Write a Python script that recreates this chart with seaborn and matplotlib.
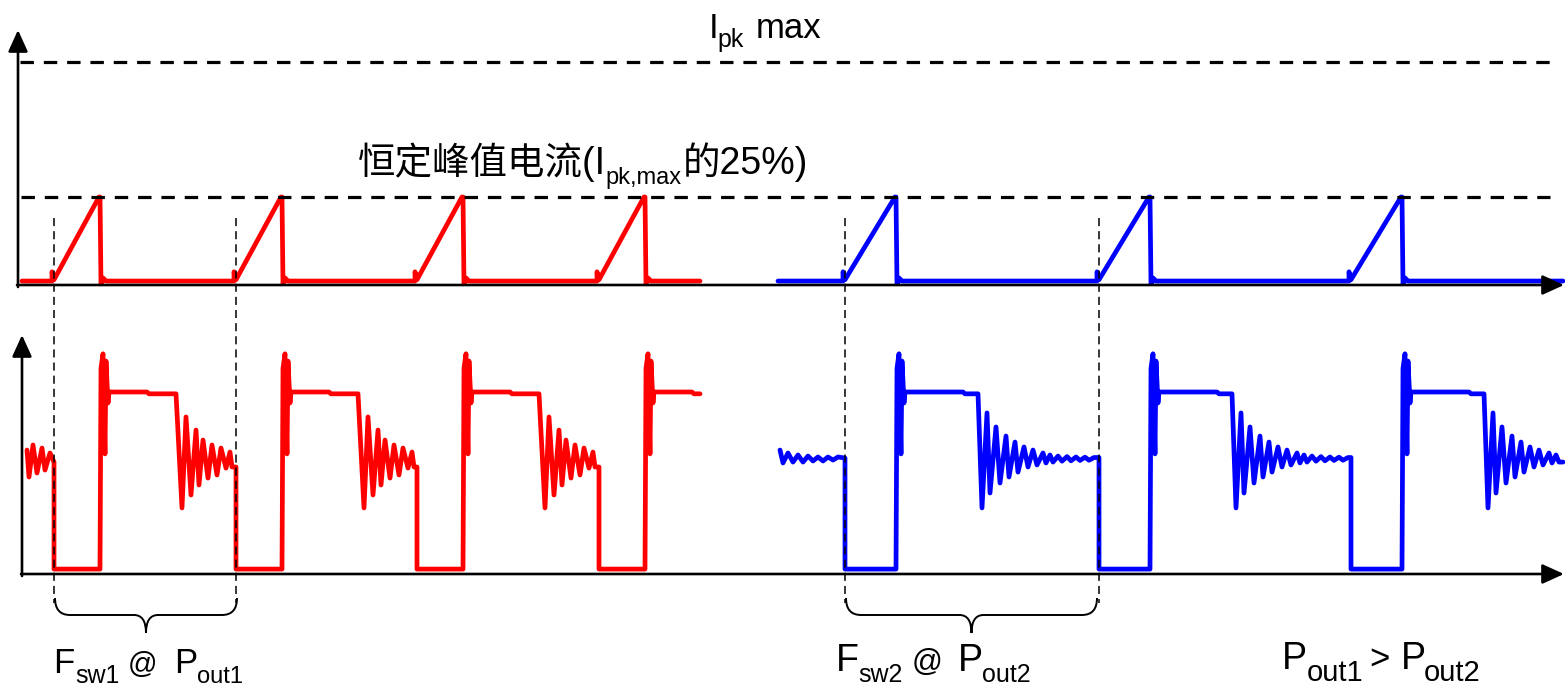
import matplotlib
matplotlib.use("Agg")
import matplotlib.pyplot as plt
import matplotlib.transforms as mtrans
from matplotlib.path import Path
from matplotlib.patches import PathPatch
import seaborn as sns
import pandas as pd

# ---------------- data (schematic) ----------------
# time in arbitrary units, common to both panels
red_starts = [54, 236, 417, 599]        # switching instants at Fsw1 (current ramp start / drain drop)
red_on_time = 46                        # primary conduction time
red_step_time = 47                      # plateau small step, after turn-off
red_ring_start = 76                     # plateau length after turn-off
red_t_begin, red_t_end = 22, 700

blue_starts = [845, 1099, 1351]         # switching instants at Fsw2
blue_on_time = 51
blue_step_time = 67
blue_ring_start = 82
blue_t_begin, blue_t_end = 778, 1563

# primary current levels (normalised: constant peak = 1)
i_base = 0.045
i_blip = 0.15
i_peak = 1.0
ipk_max = 2.53

# drain voltage levels (normalised: reflected plateau = 1)
v_low = 0.027
v_plateau = 1.0
v_step = 0.99

spike_dt = [1, 3, 5, 6, 8, 9]
spike_v = [1.13, 1.21, 0.66, 1.17, 0.94, 1.0]

red_ring_dt = [6, 10, 15, 20, 23, 27, 32, 36, 41, 45, 50, 54, 56, 60]
red_ring_v = [0.363, 0.863, 0.434, 0.791, 0.489, 0.736, 0.527, 0.709,
              0.544, 0.692, 0.582, 0.670, 0.588, 0.643]

blue_ring_dt = [4, 9, 12, 18, 22, 28, 31, 37, 40, 46, 50, 55, 59, 65, 68,
                72, 75, 80, 84, 89, 93, 98, 102, 107, 111, 116, 121]
blue_ring_v = [0.363, 0.885, 0.445, 0.808, 0.500, 0.758, 0.533, 0.725,
               0.560, 0.698, 0.588, 0.681, 0.599, 0.665, 0.610,
               0.654, 0.615, 0.648, 0.620, 0.645, 0.622, 0.643, 0.624,
               0.642, 0.625, 0.640, 0.630]

red_pre_t = [27, 29, 33, 37, 42, 45, 50, 54]
red_pre_v = [0.681, 0.533, 0.709, 0.555, 0.692, 0.571, 0.665, 0.615]

blue_pre_t = [780, 783, 788, 793, 798, 803, 808, 813, 818, 823, 828, 833, 838, 845]
blue_pre_v = [0.681, 0.610, 0.665, 0.615, 0.654, 0.615, 0.648, 0.621,
              0.643, 0.621, 0.643, 0.626, 0.643, 0.637]

# labels: (text, size pt, is subscript)
label_ipk = [("I", 25, False), ("pk", 18, True), ("max", 25, False)]
label_const = [("恒定峰值电流(I", 27, False), ("pk,max", 17, True), ("的25%)", 27, False)]
label_f1 = [("F", 25, False), ("sw1", 18, True), ("@", 21, False),
            ("P", 25, False), ("out1", 17, True)]
label_f2 = [("F", 27, False), ("sw2", 18, True), ("@", 22, False),
            ("P", 27, False), ("out2", 18, True)]
label_cmp = [("P", 27, False), ("out1", 21, True), (">", 25, False),
             ("P", 27, False), ("out2", 21, True)]

RED = "#ff0000"
BLUE = "#0000ff"

# ---------------- waveform builders ----------------
def current_wave(starts, on_time, t_begin, t_end):
    t, i = [t_begin], [i_base]
    for s in starts:
        on = s + on_time
        t += [s - 2, s - 2, s, on - 1, on, on + 1, on + 3, on + 6]
        i += [i_base, i_blip, 0.06, i_peak, i_peak, 0.0, 0.08, i_base]
    t.append(t_end)
    i.append(i_base)
    return pd.DataFrame({"t": t, "i": i})


def voltage_wave(starts, on_time, step_time, ring_start, ring_dt, ring_v,
                 pre_t, pre_v, t_end):
    t, v = list(pre_t), list(pre_v)
    for k, s in enumerate(starts):
        nxt = starts[k + 1] if k + 1 < len(starts) else 10 ** 6
        on = s + on_time
        t += [s, s, on]
        v += [v[-1], v_low, v_low]
        t += [on + d for d in spike_dt]
        v += list(spike_v)
        t += [on + step_time, on + step_time + 2, on + ring_start]
        v += [v_plateau, v_step, v_step]
        for d, val in zip(ring_dt, ring_v):
            tt = on + ring_start + d
            if tt < nxt:
                t.append(tt)
                v.append(val)
    df = pd.DataFrame({"t": t, "v": v})
    df = df[df["t"] <= t_end]
    if df["t"].iloc[-1] < t_end:
        df = pd.concat([df, pd.DataFrame({"t": [t_end], "v": [df["v"].iloc[-1]]})])
    return df.reset_index(drop=True)


# ---------------- figure ----------------
sns.set_theme(style="white")
FONT = ["Liberation Sans", "Noto Sans CJK SC", "DejaVu Sans"]
plt.rcParams["font.family"] = FONT

W, H = 1565, 689
fig = plt.figure(figsize=(W / 100, H / 100), dpi=100)

# top panel: y=0 at pixel 285, 88 px per unit
ax_top = fig.add_axes([0, (H - 285) / H, 1, 264 / H])
# bottom panel: y=0 at pixel 574, 182 px per unit
ax_bot = fig.add_axes([0, (H - 574) / H, 1, 1.34 * 182 / H])
# overlay in pixel coordinates for annotations
ov = fig.add_axes([0, 0, 1, 1])
ov.set_xlim(0, W)
ov.set_ylim(H, 0)
ov.axis("off")

# waveforms
lw = 3.4
red_i = current_wave(red_starts, red_on_time, red_t_begin, red_t_end)
blue_i = current_wave(blue_starts, blue_on_time, blue_t_begin, blue_t_end)
sns.lineplot(data=red_i, x="t", y="i", ax=ax_top, color=RED, lw=lw,
             sort=False, estimator=None)
sns.lineplot(data=blue_i, x="t", y="i", ax=ax_top, color=BLUE, lw=lw,
             sort=False, estimator=None)

red_v = voltage_wave(red_starts, red_on_time, red_step_time, red_ring_start,
                     red_ring_dt, red_ring_v, red_pre_t, red_pre_v, red_t_end)
blue_v = voltage_wave(blue_starts, blue_on_time, blue_step_time, blue_ring_start,
                      blue_ring_dt, blue_ring_v, blue_pre_t, blue_pre_v, blue_t_end)
sns.lineplot(data=red_v, x="t", y="v", ax=ax_bot, color=RED, lw=lw,
             sort=False, estimator=None)
sns.lineplot(data=blue_v, x="t", y="v", ax=ax_bot, color=BLUE, lw=lw,
             sort=False, estimator=None)

# reference levels
dash_k = dict(color="black", lw=2.3, linestyle=(0, (4.2, 3.1)))
ax_top.hlines([ipk_max], 20, 1550, **dash_k)
ax_top.hlines([i_peak], 21, 1550, **dash_k)

for a in (ax_top, ax_bot):
    a.set_xlim(0, W)
    a.axis("off")
ax_top.set_ylim(0, 3.0)
ax_bot.set_ylim(0, 1.34)

# axis arrows (pixel coordinates)
arrow_k = dict(arrowstyle="-|>,head_length=1.1,head_width=0.5", lw=1.9,
               color="black", shrinkA=0, shrinkB=0)
for tip, tail in [((18, 30), (18, 287)), ((1564, 285), (17, 285)),
                  ((22, 335), (22, 576)), ((1564, 574), (21, 574))]:
    ov.annotate("", xy=tip, xytext=tail, arrowprops=arrow_k,
                annotation_clip=False)

# vertical period markers
trans = mtrans.blended_transform_factory(ax_top.transData, ov.transData)
for x in [red_starts[0], red_starts[1], blue_starts[0], blue_starts[1]]:
    ov.plot([x, x], [218, 603], transform=trans, color="black", lw=1.1,
            linestyle=(0, (5.3, 3.3)))


# braces
def brace(xl, xr, y0=598, y1=615, y2=633, r=15, rc=12):
    xc = (xl + xr) / 2
    verts = [(xl, y0), (xl, y1), (xl + r, y1), (xc - rc, y1), (xc, y1), (xc, y2),
             (xc, y1), (xc + rc, y1), (xr - r, y1), (xr, y1), (xr, y0)]
    codes = [Path.MOVETO, Path.CURVE3, Path.CURVE3, Path.LINETO, Path.CURVE3,
             Path.CURVE3, Path.CURVE3, Path.CURVE3, Path.LINETO, Path.CURVE3,
             Path.CURVE3]
    ov.add_patch(PathPatch(Path(verts, codes), fill=False, lw=1.4,
                           color="black", transform=trans))


brace(red_starts[0] + 1, red_starts[1] + 1)
brace(blue_starts[0] + 1, blue_starts[1] - 2)


# text pieces placed at their left edges (pixels), baseline-aligned
def label(pieces, xs, base, sub_drop):
    for (s, fs, is_sub), x in zip(pieces, xs):
        ov.text(x, base + (sub_drop if is_sub else 0), s, fontsize=fs,
                family=FONT, va="baseline", ha="left", color="black")


label(label_ipk, [709, 717, 756], 38, 9)
label(label_const, [358, 605, 683], 174, 10)
label(label_f1, [53, 75, 128, 174, 197], 673, 10)
label(label_f2, [836, 858, 912, 958, 982], 671, 11)
label(label_cmp, [1282, 1307, 1369, 1401, 1424], 669, 12)

fig.savefig("out.png", dpi=100)
